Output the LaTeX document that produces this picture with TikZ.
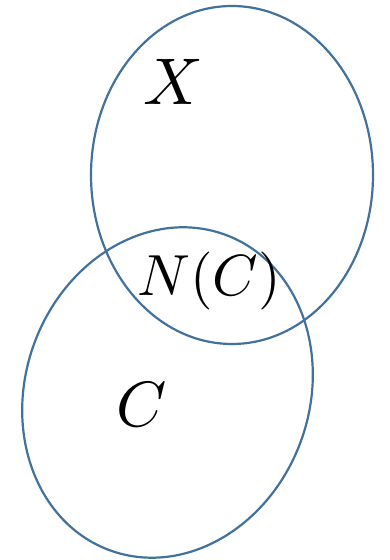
\documentclass[tikz,border=0pt]{standalone}
\usepackage{tikz}
\usepackage{xcolor}
\definecolor{setline}{RGB}{65, 113, 156}

\begin{document}
\begin{tikzpicture}[x=1pt, y=1pt]
  \useasboundingbox (0,0) rectangle (390,560);

  % ---------- the two sets ----------
  \draw[setline, line width=2.2pt] (232,385) ellipse [x radius=141, y radius=169];
  \draw[setline, line width=2.2pt, rotate around={-20:(167.5,167.5)}]
    (167.5,167.5) ellipse [x radius=142, y radius=168];

  % ---------- labels ----------
  \node[scale=6.6] (setX) at (173,478) {$X$};
  \node[scale=5.8] (setNC) at (209,279) {$N(C)$};
  \node[scale=6.4] (setC) at (142,155) {$C$};

\end{tikzpicture}
\end{document}
